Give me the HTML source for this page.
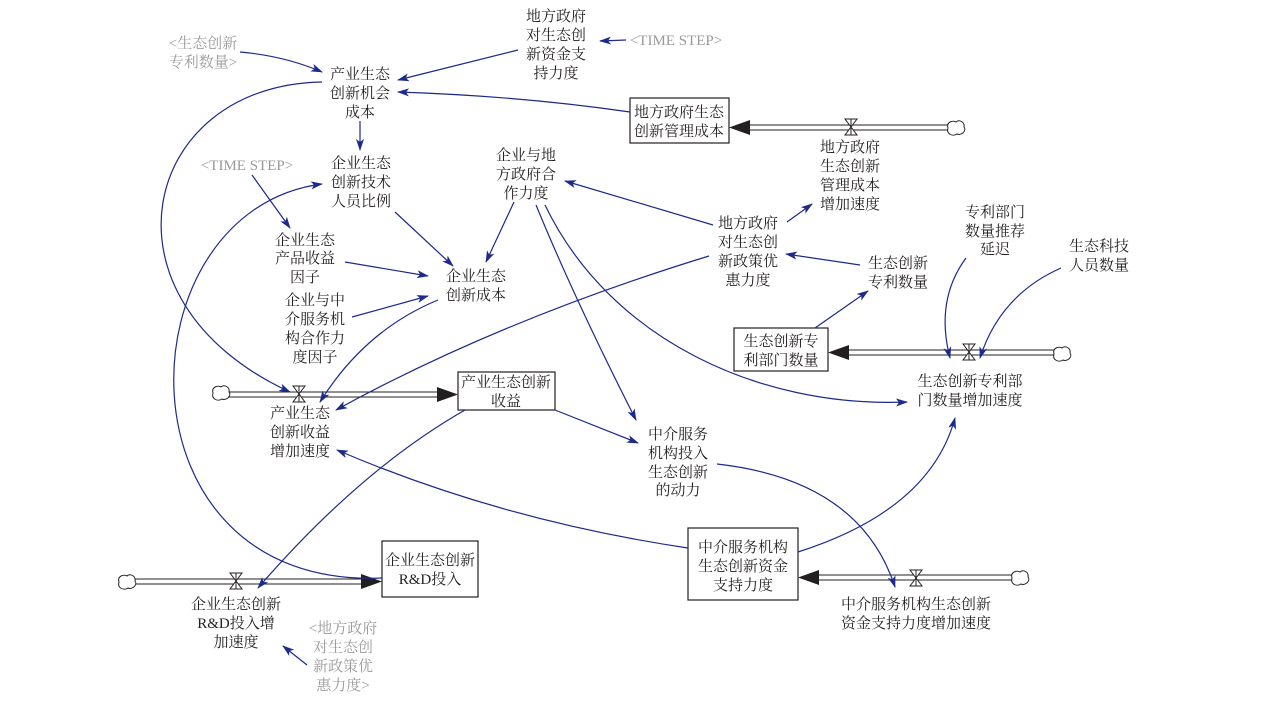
<!DOCTYPE html>
<html><head><meta charset="utf-8"><style>
html,body{margin:0;padding:0;background:#fff;}
svg{display:block;}
text{font-family:"Liberation Serif","Noto Serif CJK SC","Noto Sans CJK SC",serif;font-size:15px;fill:#231f20;text-anchor:middle;}
.g{fill:#9a9a9a;}
.a{fill:none;stroke:#1c2a8c;stroke-width:1.2;marker-end:url(#ah);}
.box{fill:#fff;stroke:#231f20;stroke-width:1.2;}
.p{stroke:#231f20;stroke-width:1.1;}
</style></head><body>
<svg width="1271" height="702" viewBox="0 0 1271 702" xmlns="http://www.w3.org/2000/svg">
<defs>
<marker id="ah" markerWidth="12" markerHeight="8" refX="11" refY="4" orient="auto" markerUnits="userSpaceOnUse">
<path d="M0,0 L12,4 L0,8 L3,4 Z" fill="#1c2a8c"/></marker>
<g id="valve"><path d="M-6,-8 L6,-8 L-6,8 L6,8 Z" fill="#fff" stroke="#231f20" stroke-width="1"/><line x1="0" y1="-8" x2="0" y2="8" stroke="#231f20" stroke-width="1"/></g>
<g id="cloud"><path d="M-8,0 C-10,-6 -3,-8 0,-6 C3,-9 9,-6 8,-1 C11,3 5,8 1,6 C-3,9 -10,6 -8,0 Z" fill="#fff" stroke="#231f20" stroke-width="1"/></g>
</defs>

<g>
<line class="p" x1="750" y1="125" x2="948" y2="125"/><line class="p" x1="750" y1="130" x2="948" y2="130"/>
<path d="M729,127.5 L750,120 L750,135 Z" fill="#231f20"/>
<use href="#valve" x="851" y="127"/><use href="#cloud" x="956" y="128"/>

<line class="p" x1="848" y1="350" x2="1055" y2="350"/><line class="p" x1="848" y1="355" x2="1055" y2="355"/>
<path d="M828,352.5 L849,345 L849,360 Z" fill="#231f20"/>
<use href="#valve" x="969" y="352"/><use href="#cloud" x="1062" y="354"/>

<line class="p" x1="228" y1="392" x2="438" y2="392"/><line class="p" x1="228" y1="397" x2="438" y2="397"/>
<path d="M458,394.5 L437,387 L437,402 Z" fill="#231f20"/>
<use href="#valve" x="299" y="394"/><use href="#cloud" x="221" y="393"/>

<line class="p" x1="818" y1="575" x2="1012" y2="575"/><line class="p" x1="818" y1="580" x2="1012" y2="580"/>
<path d="M798,577.5 L819,570 L819,585 Z" fill="#231f20"/>
<use href="#valve" x="916" y="578"/><use href="#cloud" x="1020" y="578"/>

<line class="p" x1="135" y1="579" x2="362" y2="579"/><line class="p" x1="135" y1="584" x2="362" y2="584"/>
<path d="M382,581.5 L361,574 L361,589 Z" fill="#231f20"/>
<use href="#valve" x="236" y="581"/><use href="#cloud" x="127" y="582"/>
</g>

<rect class="box" x="630" y="98" width="99" height="45"/>
<rect class="box" x="734" y="328" width="94" height="43"/>
<rect class="box" x="458" y="372" width="97" height="38"/>
<rect class="box" x="688" y="528" width="110" height="72"/>
<rect class="box" x="382" y="541" width="96" height="56"/>

<path class="a" d="M240,52 Q285,56 322,72"/>
<path class="a" d="M518,50 L398,80"/>
<path class="a" d="M626,40 L600,41"/>
<path class="a" d="M630,112 Q520,96 398,92"/>
<path class="a" d="M360,121 L360,150"/>
<path class="a" d="M322,82 C140,85 90,300 290,392"/>
<path class="a" d="M252,175 L290,228"/>
<path class="a" d="M395,212 L453,266"/>
<path class="a" d="M514,202 L486,262"/>
<path class="a" d="M345,262 L428,276"/>
<path class="a" d="M352,317 L428,296"/>
<path class="a" d="M438,300 Q365,330 320,402"/>
<path class="a" d="M709,256 Q500,320 336,410"/>
<path class="a" d="M787,222 L812,204"/>
<path class="a" d="M713,225 L565,181"/>
<path class="a" d="M860,265 L786,254"/>
<path class="a" d="M815,328 L868,291"/>
<path class="a" d="M536,205 Q575,300 636,420"/>
<path class="a" d="M545,205 C610,340 760,408 907,402"/>
<path class="a" d="M966,258 Q935,300 950,358"/>
<path class="a" d="M1061,268 Q1000,295 980,358"/>
<path class="a" d="M555,410 L638,443"/>
<path class="a" d="M465,410 Q360,470 258,588"/>
<path class="a" d="M717,464 Q860,480 895,587"/>
<path class="a" d="M688,548 Q500,520 337,450"/>
<path class="a" d="M798,552 Q930,510 955,418"/>
<path class="a" d="M382,578 C110,590 120,210 322,184"/>
<path class="a" d="M307,665 L283,646"/>

<text x="556" y="21">地方政府</text><text x="556" y="40">对生态创</text><text x="556" y="59">新资金支</text><text x="556" y="78">持力度</text>
<text class="g" x="676" y="45">&lt;TIME STEP&gt;</text>
<text class="g" x="203" y="48">&lt;生态创新</text><text class="g" x="203" y="67">专利数量&gt;</text>
<text x="360" y="79">产业生态</text><text x="360" y="98">创新机会</text><text x="360" y="117">成本</text>
<text x="679" y="117">地方政府生态</text><text x="679" y="136">创新管理成本</text>
<text x="850" y="152">地方政府</text><text x="850" y="171">生态创新</text><text x="850" y="190">管理成本</text><text x="850" y="209">增加速度</text>
<text x="361" y="168">企业生态</text><text x="361" y="187">创新技术</text><text x="361" y="206">人员比例</text>
<text class="g" x="247" y="170">&lt;TIME STEP&gt;</text>
<text x="526" y="160">企业与地</text><text x="526" y="179">方政府合</text><text x="526" y="198">作力度</text>
<text x="305" y="245">企业生态</text><text x="305" y="263">产品收益</text><text x="305" y="282">因子</text>
<text x="476" y="281">企业生态</text><text x="476" y="300">创新成本</text>
<text x="315" y="305">企业与中</text><text x="315" y="324">介服务机</text><text x="315" y="343">构合作力</text><text x="315" y="362">度因子</text>
<text x="748" y="228">地方政府</text><text x="748" y="247">对生态创</text><text x="748" y="266">新政策优</text><text x="748" y="285">惠力度</text>
<text x="898" y="268">生态创新</text><text x="898" y="287">专利数量</text>
<text x="995" y="217">专利部门</text><text x="995" y="236">数量推荐</text><text x="995" y="254">延迟</text>
<text x="1099" y="251">生态科技</text><text x="1099" y="270">人员数量</text>
<text x="781" y="346">生态创新专</text><text x="781" y="365">利部门数量</text>
<text x="970" y="386">生态创新专利部</text><text x="970" y="405">门数量增加速度</text>
<text x="506" y="387">产业生态创新</text><text x="506" y="406">收益</text>
<text x="300" y="418">产业生态</text><text x="300" y="437">创新收益</text><text x="300" y="456">增加速度</text>
<text x="678" y="439">中介服务</text><text x="678" y="458">机构投入</text><text x="678" y="477">生态创新</text><text x="678" y="495">的动力</text>
<text x="743" y="552">中介服务机构</text><text x="743" y="571">生态创新资金</text><text x="743" y="590">支持力度</text>
<text x="916" y="609">中介服务机构生态创新</text><text x="916" y="628">资金支持力度增加速度</text>
<text x="430" y="565">企业生态创新</text><text x="430" y="584">R&amp;D投入</text>
<text x="236" y="609">企业生态创新</text><text x="236" y="628">R&amp;D投入增</text><text x="236" y="647">加速度</text>
<text class="g" x="343" y="633">&lt;地方政府</text><text class="g" x="343" y="652">对生态创</text><text class="g" x="343" y="671">新政策优</text><text class="g" x="343" y="690">惠力度&gt;</text>
</svg>
</body></html>
